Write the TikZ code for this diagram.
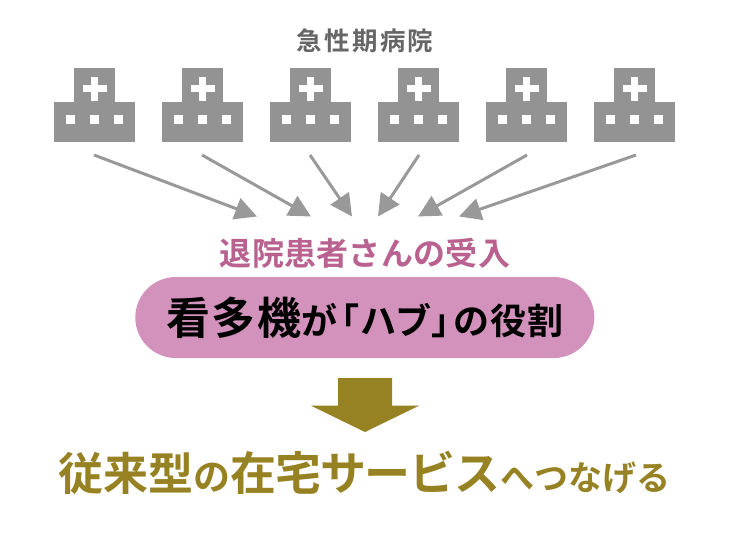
\documentclass[tikz,border=0pt]{standalone}
\usepackage{fontspec}
\setmainfont{Noto Sans CJK JP}[UprightFont = {* Medium}, BoldFont = {* Bold}]
\usetikzlibrary{arrows.meta}

\definecolor{hospgray}{HTML}{939393}
\definecolor{arrowgray}{HTML}{999999}
\definecolor{titlegray}{HTML}{666666}
\definecolor{hubpink}{HTML}{D292BB}
\definecolor{intakepink}{HTML}{B9628F}
\definecolor{serviceolive}{HTML}{978223}

\tikzset{
	sendarrow/.style = {draw = arrowgray, line width = 3pt, -{Triangle[length = 22pt, width = 22pt]}},
	caption/.style = {inner sep = 0},
}

\begin{document}
\begin{tikzpicture}[x = 1pt, y = -1pt]
	\useasboundingbox (0, 0) rectangle (730, 541);
	\def\hospstep{108}

	\node[caption, text = titlegray, font = \bfseries\fontsize{25.5}{25.5}\selectfont\addfontfeature{LetterSpace=9}] (acutetitle) at (365, 41) {急性期病院};

	% hospitals
	\foreach \i in {0, ..., 5} {
		\begin{scope}[shift = {(\i*\hospstep - 0.5, 0)}]
			\fill[hospgray] (74.7, 68) rectangle (115, 102);
			\fill[hospgray] (54.5, 102) rectangle (135.5, 142);
			\fill[white] (83, 85) rectangle (107, 92);
			\fill[white] (91.7, 77) rectangle (98.3, 101);
			\foreach \wx in {71.3, 95, 118.7} {
				\fill[white] (\wx - 4.5, 115) rectangle (\wx + 4.5, 124);
			}
		\end{scope}
	}

	% arrows to the hub
	\foreach \i/\xfrom/\xto in {1/94/257, 2/202/311, 3/310/352, 4/419/378, 5/527/418, 6/636/459} {
		\coordinate (from\i) at (\xfrom, 155);
		\coordinate (to\i) at (\xto, 216.5);
		\draw[sendarrow] (from\i) -- (to\i);
	}

	\node[caption, text = intakepink, font = \bfseries\fontsize{32}{32}\selectfont\addfontfeature{LetterSpace=1}] (intake) at (365, 253) {退院患者さんの受入};

	\node[fill = hubpink, minimum width = 459pt, minimum height = 81pt, rounded corners = 40.5pt, inner sep = 0, text = black, font = \bfseries\fontsize{36}{36}\selectfont] (hub) at (364.8, 317.5) {{\fontsize{44}{44}\selectfont\addfontfeature{LetterSpace=4}看多機}{\addfontfeature{LetterSpace=3}が}\hspace{3pt}{\addfontfeature{RawFeature=+palt}「\hspace{3pt}ハブ\hspace{3pt}」}\hspace{3pt}{\addfontfeature{LetterSpace=3}の役割}};

	\fill[serviceolive] (338, 378) -- (392, 378) -- (392, 405.7) -- (419, 405.7) -- (365, 432) -- (311, 405.7) -- (338, 405.7) -- cycle;

	\node[caption, text = serviceolive, font = \bfseries\fontsize{34}{34}\selectfont] (service) at (364.5, 473) {{\fontsize{45}{45}\selectfont 従来型}{\fontsize{37}{37}\selectfont の}{\fontsize{46}{46}\selectfont\addfontfeature{LetterSpace=-3}在宅サービス}へつなげる};
\end{tikzpicture}
\end{document}
